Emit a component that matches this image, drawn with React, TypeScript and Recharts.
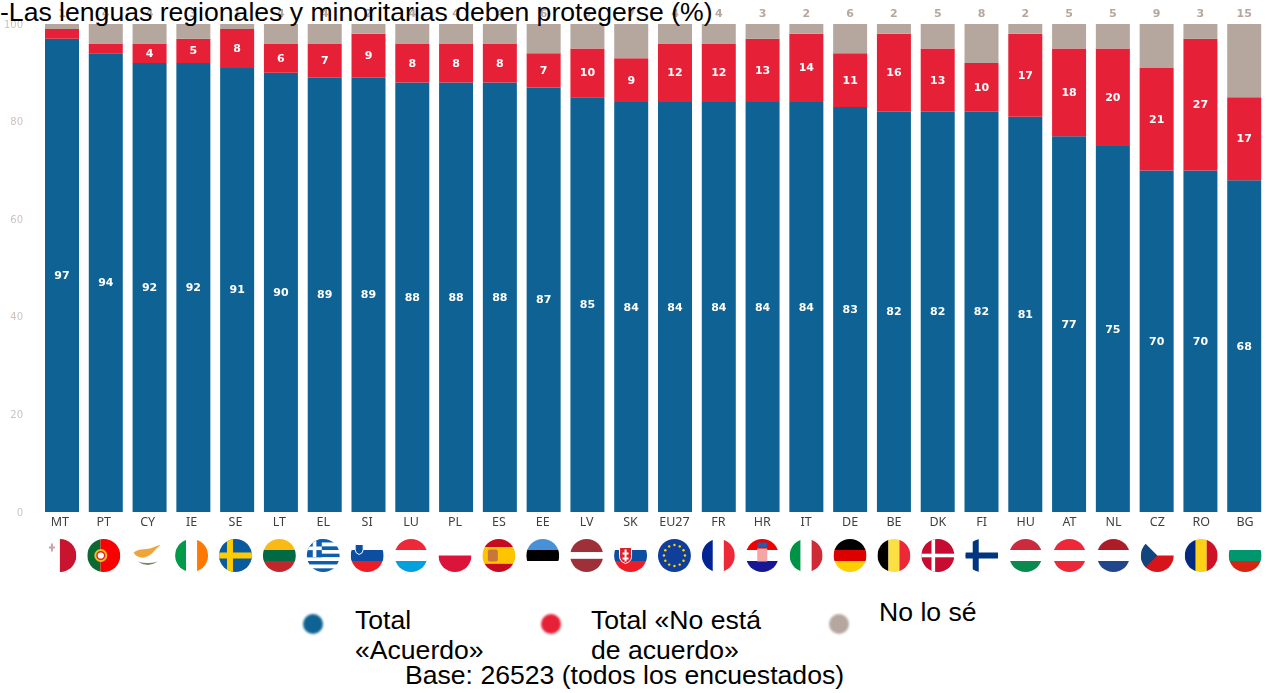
import React from "react";
import { BarChart, Bar, XAxis, YAxis, LabelList, Legend } from "recharts";

const countries = ["MT","PT","CY","IE","SE","LT","EL","SI","LU","PL","ES","EE","LV","SK","EU27","FR","HR","IT","DE","BE","DK","FI","HU","AT","NL","CZ","RO","BG"];
const agree = [97,94,92,92,91,90,89,89,88,88,88,87,85,84,84,84,84,84,83,82,82,82,81,77,75,70,70,68];
const disagree = [2,2,4,5,8,6,7,9,8,8,8,7,10,9,12,12,13,14,11,16,13,10,17,18,20,21,27,17];
const dontKnow = [1,4,4,3,1,4,4,2,4,4,4,6,5,7,4,4,3,2,6,2,5,8,2,5,5,9,3,15];
const yTicks = [0,20,40,60,80,100];
const titleText = "-Las lenguas regionales y minoritarias deben protegerse (%)";
const baseText = "Base: 26523 (todos los encuestados)";
const seriesNames = ["Total «Acuerdo»", "Total «No está de acuerdo»", "No lo sé"];

const BLUE = "#0e6394";
const RED = "#e62137";
const GREY = "#b5a79e";

const rows = countries.map((country, i) => ({ country, agree: agree[i], disagree: disagree[i], dontKnow: dontKnow[i] }));

const R = 16.5;
const hStripes = (colors: string[], weights?: number[]) => {
  const w = weights || colors.map(() => 1);
  const total = w.reduce((a, b) => a + b, 0);
  let y = -R;
  return colors.map((c, i) => {
    const h = (w[i] / total) * 2 * R;
    const el = <rect key={i} x={-R} y={y} width={2 * R} height={h} fill={c} />;
    y += h;
    return el;
  });
};
const vStripes = (colors: string[], weights?: number[]) => {
  const w = weights || colors.map(() => 1);
  const total = w.reduce((a, b) => a + b, 0);
  let x = -R;
  return colors.map((c, i) => {
    const wd = (w[i] / total) * 2 * R;
    const el = <rect key={i} x={x} y={-R} width={wd} height={2 * R} fill={c} />;
    x += wd;
    return el;
  });
};
const cross = (bg: string, fg: string, cx: number, t: number) => (
  <>
    <rect x={-R} y={-R} width={2 * R} height={2 * R} fill={bg} />
    <rect x={cx - t / 2} y={-R} width={t} height={2 * R} fill={fg} />
    <rect x={-R} y={-t / 2} width={2 * R} height={t} fill={fg} />
  </>
);

const flags: Record<string, React.ReactNode> = {
  MT: <>{vStripes(["#ffffff", "#c8142e"])}<path d="M-11 -9h2v-3h2v3h2v2h-2v3h-2v-3h-2z" fill="#c9a2aa" /></>,
  PT: <>{vStripes(["#0a6a32", "#fb0000"], [2, 3])}<circle cx={-3} cy={0} r={6.5} fill="#e8c020" /><circle cx={-3} cy={0} r={3.8} fill="#ffffff" stroke="#d22" strokeWidth={1.4} /></>,
  CY: <><path d="M-14 -3 C-8 -8 0 -5 5 -8 L13 -11 L7 -5 C4 -1 -2 3 -7 2 C-10 1 -13 0 -14 -3z" fill="#eda53c" /><path d="M-10 6 Q0 13 10 6 Q0 9 -10 6z" fill="#6c8c5c" /></>,
  IE: vStripes(["#009a49", "#ffffff", "#ff7900"]),
  SE: cross("#0a5a9e", "#fecb00", -5.5, 6),
  LT: hStripes(["#fdb913", "#006a44", "#c1272d"]),
  EL: <>{hStripes(["#0d5eaf","#ffffff","#0d5eaf","#ffffff","#0d5eaf","#ffffff","#0d5eaf","#ffffff","#0d5eaf"])}<rect x={-R} y={-R} width={15} height={18.3} fill="#0d5eaf" /><rect x={-R} y={-9} width={15} height={3.6} fill="#ffffff" /><rect x={-10.5} y={-R} width={3.6} height={18.3} fill="#ffffff" /></>,
  SI: <>{hStripes(["#ffffff", "#0b4ea2", "#ee1c25"])}<path d="M-12 -11h8v5q0 4 -4 5q-4 -1 -4 -5z" fill="#0b4ea2" stroke="#fff" /></>,
  LU: hStripes(["#ed2939", "#ffffff", "#00a1de"]),
  PL: hStripes(["#ffffff", "#dc143c"]),
  ES: <>{hStripes(["#c60b1e", "#ffc400", "#c60b1e"], [1, 2, 1])}<rect x={-11} y={-6} width={10} height={12} rx={2} fill="#c8763a" /></>,
  EE: hStripes(["#4891d9", "#000000", "#ffffff"]),
  LV: hStripes(["#9e3039", "#ffffff", "#9e3039"], [2, 1, 2]),
  SK: <>{hStripes(["#ffffff", "#0b4ea2", "#ee1c25"])}<path d="M-11 -8h12v9q0 5 -6 7q-6 -2 -6 -7z" fill="#e01f2d" stroke="#fff" /><path d="M-6 -6h2v3h2v2h-2v3h2v2h-2v2h-2v-2h-2v-2h2v-3h-2v-2h2z" fill="#fff" /></>,
  EU27: <><rect x={-R} y={-R} width={2 * R} height={2 * R} fill="#0f3f9b" />{Array.from({ length: 12 }, (_, k) => <circle key={k} cx={10.5 * Math.cos(k * Math.PI / 6)} cy={10.5 * Math.sin(k * Math.PI / 6)} r={1.2} fill="#ffd617" />)}</>,
  FR: vStripes(["#002395", "#ffffff", "#ed2939"]),
  HR: <>{hStripes(["#f00000", "#ffffff", "#171796"])}<rect x={-5} y={-7} width={10} height={13} fill="#f4a5a5" /><rect x={-5} y={-13} width={10} height={5} fill="#2a5ba8" /></>,
  IT: vStripes(["#009246", "#ffffff", "#ce2b37"]),
  DE: hStripes(["#000000", "#dd0000", "#ffce00"]),
  BE: vStripes(["#000000", "#fae042", "#ed2939"]),
  DK: cross("#c60c30", "#ffffff", -4.5, 3.6),
  FI: cross("#ffffff", "#003580", -6, 6),
  HU: hStripes(["#cd2a3e", "#ffffff", "#0a8a4c"]),
  AT: hStripes(["#ed2939", "#ffffff", "#ed2939"]),
  NL: hStripes(["#ae1c28", "#ffffff", "#21468b"]),
  CZ: <>{hStripes(["#ffffff", "#d7141a"])}<path d="M-16.5 -16.5 L0 0 L-16.5 16.5z" fill="#11457e" /></>,
  RO: vStripes(["#002b7f", "#fcd116", "#ce1126"]),
  BG: hStripes(["#ffffff", "#00966e", "#d62612"]),
};

const CountryTick = (props: any) => {
  const { x, y, payload, index } = props;
  const name = payload.value as string;
  const i = index ?? payload.index ?? 0;
  const dx = -2 + (3 * i) / 27;
  const id = `flag-${name}`;
  return (
    <g transform={`translate(${x + dx},${y})`}>
      <text y={7} textAnchor="middle" dominantBaseline="central" fontFamily="'Noto Sans', sans-serif" fontSize={12.5} fill="#3f3f3f">{name}</text>
      <g transform="translate(0,41.5)">
        <clipPath id={id}><circle r={R} /></clipPath>
        <g clipPath={`url(#${id})`}>{flags[name]}</g>
      </g>
    </g>
  );
};

const whiteLabel = (min: number) => (props: any) => {
  const { x, y, width, height, value } = props;
  if (value < min) return null;
  return (
    <text x={x + width / 2} y={y + height / 2} textAnchor="middle" dominantBaseline="central" fontFamily="'DejaVu Sans', sans-serif" fontWeight={700} fontSize={11} fill="#ffffff">{value}</text>
  );
};
const topLabel = (props: any) => {
  const { x, y, width, value } = props;
  return (
    <text x={x + width / 2} y={y - 11} textAnchor="middle" dominantBaseline="central" fontFamily="'DejaVu Sans', sans-serif" fontWeight={700} fontSize={11} fill={GREY}>{value}</text>
  );
};

const legendItems = [
  { color: BLUE, dotX: 313, textX: 355, textY: 605, width: 135 },
  { color: RED, dotX: 551, textX: 591, textY: 605, width: 190 },
  { color: GREY, dotX: 839, textX: 879, textY: 597, width: 150 },
];
const legendText: React.CSSProperties = { position: "absolute", fontFamily: "'Liberation Sans', Arial, sans-serif", fontSize: 26.6, lineHeight: "30px", color: "#000" };

const LegendBox = () => (
  <div style={{ position: "absolute", left: 0, top: 0, width: 1271, height: 693 }}>
    {legendItems.map((it, i) => (
      <React.Fragment key={i}>
        <div style={{ position: "absolute", left: it.dotX - 10, top: 614, width: 20, height: 20, borderRadius: "50%", background: it.color, filter: "blur(1.2px)" }} />
        <div style={{ ...legendText, left: it.textX, top: it.textY, width: it.width }}>{seriesNames[i]}</div>
      </React.Fragment>
    ))}
  </div>
);

export default function App() {
  return (
    <div style={{ position: "absolute", left: 0, top: 0, width: 1271, height: 693, overflow: "hidden", background: "#fff" }}>
      <style>{`.recharts-surface{filter:blur(0.6px)}`}</style>
      <BarChart
        width={1271}
        height={693}
        data={rows}
        barSize={34}
        margin={{ top: 24, right: 5, bottom: 121, left: 0 }}
      >
        <XAxis dataKey="country" height={60} interval={0} tickLine={false} axisLine={false} tickSize={0} tick={<CountryTick />} />
        <YAxis width={40} domain={[0, 100]} ticks={yTicks} tickLine={false} axisLine={false} tickSize={0} tickMargin={17} tick={{ fontFamily: "'DejaVu Sans', sans-serif", fontSize: 10, fill: "#cdc3bc" }} />
        <Bar dataKey="agree" stackId="a" fill={BLUE} isAnimationActive={false}>
          <LabelList dataKey="agree" content={whiteLabel(0)} />
        </Bar>
        <Bar dataKey="disagree" stackId="a" fill={RED} isAnimationActive={false}>
          <LabelList dataKey="disagree" content={whiteLabel(4)} />
        </Bar>
        <Bar dataKey="dontKnow" stackId="a" fill={GREY} isAnimationActive={false}>
          <LabelList dataKey="dontKnow" content={topLabel} />
        </Bar>
        <Legend verticalAlign="middle" align="center" content={<LegendBox />} wrapperStyle={{ position: "absolute", left: 0, top: 0, width: 1271, height: 693, pointerEvents: "none" }} />
      </BarChart>
      <div style={{ position: "absolute", left: 0, top: 0, fontFamily: "'Liberation Sans', Arial, sans-serif", fontSize: 26.6, lineHeight: "24px", whiteSpace: "nowrap", color: "#000" }}>{titleText}</div>
      <div style={{ position: "absolute", left: 405, top: 660, fontFamily: "'Liberation Sans', Arial, sans-serif", fontSize: 26.6, lineHeight: "30px", whiteSpace: "nowrap", color: "#000" }}>{baseText}</div>
    </div>
  );
}
